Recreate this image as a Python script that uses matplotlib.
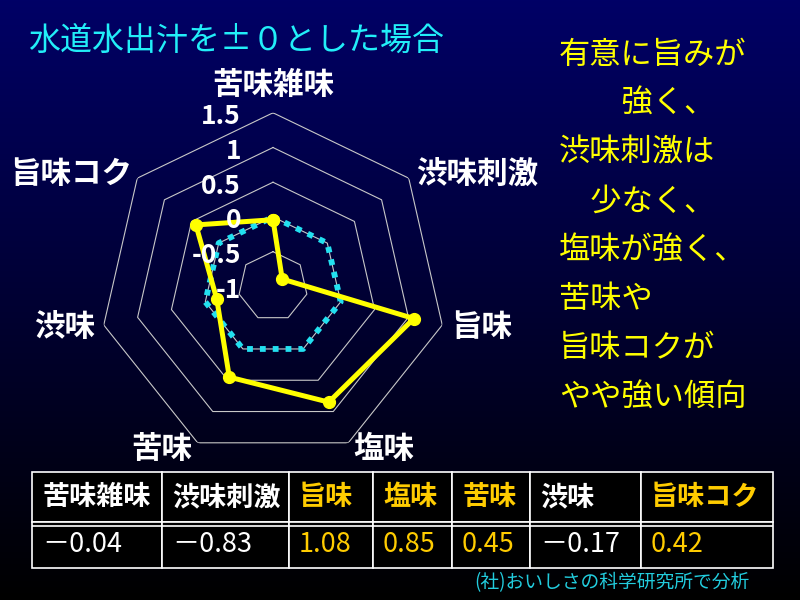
import numpy as np
import matplotlib
matplotlib.use('Agg')
import matplotlib.pyplot as plt
from matplotlib.colors import LinearSegmentedColormap

plt.rcParams['font.family'] = ['Noto Sans CJK JP', 'DejaVu Sans']

# ---------------- data ----------------
categories = ['苦味雑味', '渋味刺激', '旨味', '塩味', '苦味', '渋味', '旨味コク']
sample_values = [-0.04, -0.83, 1.08, 0.85, 0.45, -0.17, 0.42]
baseline_values = [0, 0, 0, 0, 0, 0, 0]
r_ticks = [-1, -0.5, 0, 0.5, 1, 1.5]
r_tick_labels = ['-1', '-0.5', '0', '0.5', '1', '1.5']
table_values = ['－0.04', '－0.83', '1.08', '0.85', '0.45', '－0.17', '0.42']
highlight = [False, False, True, True, True, False, True]
title = '水道水出汁を±０とした場合'
note_lines = ['有意に旨みが', '　　強く、', '渋味刺激は', '　少なく、',
              '塩味が強く、', '苦味や', '旨味コクが', 'やや強い傾向']
source = '(社)おいしさの科学研究所で分析'

W, H = 800, 600
fig = plt.figure(figsize=(8, 6), dpi=100)

# ---------------- background gradient ----------------
bg = fig.add_axes([0, 0, 1, 1])
bg.set_axis_off()
grad = np.linspace(0, 1, 256)[:, None]
cmap = LinearSegmentedColormap.from_list('bg', ['#000066', '#000000'])
bg.imshow(grad, aspect='auto', cmap=cmap, extent=[0, 1, 0, 1])
bg.set_xlim(0, 1)
bg.set_ylim(0, 1)

# ---------------- radar ----------------
cx, cy, R = 273, 286.4, 173.6
ax = fig.add_axes([(cx - R) / W, (H - cy - R) / H, 2 * R / W, 2 * R / H],
                  projection='polar')
ax.patch.set_alpha(0)
ax.set_theta_offset(np.pi / 2)
ax.set_theta_direction(-1)
ax.set_ylim(-1, 1.5)
ax.grid(False)
ax.spines['polar'].set_visible(False)
ax.set_xticks([])
ax.set_yticks([])

n = len(categories)
angles = np.linspace(0, 2 * np.pi, n, endpoint=False)
ang_c = np.append(angles, angles[0])

for lv in r_ticks[1:]:
    ax.plot(ang_c, [lv] * (n + 1), color='#C8C8C8', lw=0.8, zorder=1)

base_c = baseline_values + baseline_values[:1]
ax.plot(ang_c, base_c, color='#22E0F0', lw=4.2, linestyle=(0, (1.0, 1.2)),
        dash_capstyle='butt', solid_capstyle='butt', zorder=3, clip_on=False)

samp_c = sample_values + sample_values[:1]
ax.plot(ang_c, samp_c, color='#FFFF00', lw=3.6, marker='o', ms=8.5,
        zorder=5, clip_on=False)

for lv, lab in zip(r_ticks, r_tick_labels):
    ax.annotate(lab, xy=(0, lv), xytext=(-32, -4), textcoords='offset pixels',
                ha='right', va='center', color='white', fontsize=19,
                fontweight='bold', zorder=6, annotation_clip=False)

label_pos = [('center', 0, 28), ('left', 7, 3.5), ('left', 9, -2),
             ('left', 5, -6), ('right', -5, -6), ('right', -9, -2),
             ('right', -5, 4)]
for a, cat, (ha, dx, dy) in zip(angles, categories, label_pos):
    ax.annotate(cat, xy=(a, 1.5), xytext=(dx, dy), textcoords='offset pixels',
                ha=ha, va='center', color='white', fontsize=22,
                fontweight='bold', annotation_clip=False)

# ---------------- texts ----------------
fig.text(28 / W, 1 - 41 / H, title, color='#22EEF8', fontsize=23,
         ha='left', va='center')
for i, line in enumerate(note_lines):
    fig.text(559 / W, 1 - (55 + 48.9 * i) / H, line, color='#FFFF00',
             fontsize=22.5, ha='left', va='center')
fig.text(474 / W, 1 - 583 / H, source, color='#22CCDD', fontsize=13.5,
         ha='left', va='center')

# ---------------- table ----------------
tab = fig.add_axes([0, 0, 1, 1])
tab.set_axis_off()
tab.patch.set_alpha(0)
tab.set_xlim(0, W)
tab.set_ylim(H, 0)

col_px = [130, 127, 84, 79, 78, 111, 132]
x0, top, bottom = 32, 472, 568
tbl = tab.table(cellText=[categories, table_values],
                colWidths=[c / sum(col_px) for c in col_px],
                cellLoc='left',
                bbox=[x0 / W, 1 - bottom / H, sum(col_px) / W, (bottom - top) / H])
tbl.auto_set_font_size(False)
gold = '#FFCC00'
for (r, c), cell in tbl.get_celld().items():
    cell.set_facecolor('black')
    cell.set_edgecolor('white')
    cell.set_linewidth(1.2)
    cell.set_height(50 if r == 0 else 46)
    cell.PAD = 10 / col_px[c]
    t = cell.get_text()
    t.set_color(gold if highlight[c] else 'white')
    t.set_fontsize(19.5)
    if r == 0:
        t.set_fontweight('bold')
tab.hlines([525.5], x0, x0 + sum(col_px), color='white', lw=1.2, zorder=10)

fig.savefig('out.png', dpi=100, facecolor='black')
